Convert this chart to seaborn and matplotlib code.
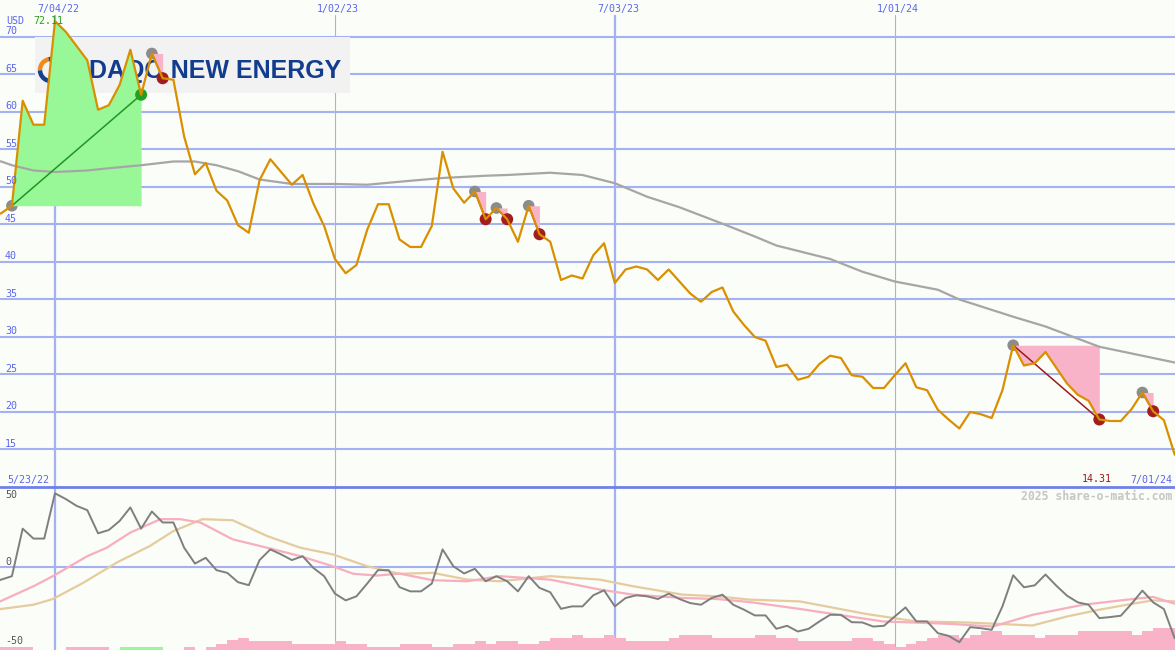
import numpy as np
import pandas as pd
import matplotlib
matplotlib.use("Agg")
import matplotlib.pyplot as plt
import matplotlib.patches as mpatches
from matplotlib.lines import Line2D
import seaborn as sns

# ---------------- data (weekly) ----------------
start_date = "2022-05-23"

price = [46.0, 46.5, 47.5, 61.5, 58.3, 58.3, 72.11, 70.7, 68.8, 66.9,
         60.3, 60.9, 63.6, 68.3, 62.3, 67.8, 64.5, 64.3, 56.7, 51.7,
         53.2, 49.5, 48.2, 44.9, 43.9, 50.9, 53.7, 52.0, 50.3, 51.6,
         47.8, 44.8, 40.4, 38.5, 39.6, 44.3, 47.7, 47.7, 43.0, 42.0,
         42.0, 44.8, 54.7, 49.8, 47.9, 49.4, 45.7, 47.2, 45.7, 42.7,
         47.5, 43.7, 42.7, 37.6, 38.2, 37.8, 40.9, 42.5, 37.2, 39.0,
         39.4, 39.0, 37.6, 39.0, 37.4, 35.8, 34.7, 36.0, 36.6, 33.4,
         31.6, 30.0, 29.5, 26.0, 26.3, 24.3, 24.7, 26.4, 27.5, 27.2,
         24.9, 24.7, 23.2, 23.2, 24.9, 26.5, 23.3, 22.9, 20.3, 19.0,
         17.8, 20.0, 19.7, 19.2, 22.9, 28.9, 26.2, 26.5, 28.0, 25.9,
         23.8, 22.3, 21.5, 19.0, 18.8, 18.8, 20.4, 22.6, 20.1, 18.9,
         14.31]

oscillator = [-11.0, -8.4, -6.1, 25.5, 18.9, 18.9, 49.0, 45.2, 40.7, 37.8,
              22.4, 24.6, 30.6, 39.6, 25.5, 36.9, 29.6, 29.6, 12.8, 2.3,
              6.1, -2.1, -3.9, -10.1, -12.1, 4.6, 11.7, 8.4, 4.6, 7.2,
              -0.6, -6.1, -17.7, -22.2, -19.5, -11.0, -2.1, -2.1, -13.4, -16.2,
              -16.2, -11.0, 11.7, 0.5, -4.3, -1.2, -9.5, -6.1, -9.5, -16.2,
              -6.1, -13.9, -16.8, -27.8, -26.2, -26.2, -18.8, -15.5, -26.2, -20.6,
              -18.8, -19.5, -21.3, -17.7, -21.3, -24.0, -25.1, -20.6, -18.4, -25.1,
              -28.4, -32.2, -32.2, -41.1, -39.1, -42.9, -41.1, -36.2, -31.8, -31.8,
              -36.7, -36.9, -39.6, -39.1, -32.9, -26.9, -36.2, -36.2, -44.0, -45.8,
              -50.0, -40.0, -40.7, -41.8, -26.2, -5.5, -13.5, -12.2, -5.0, -12.4,
              -19.1, -23.5, -25.1, -34.0, -33.3, -32.4, -24.4, -15.7, -23.5, -28.0,
              -47.4]

ma_weeks = [0, 1, 2, 4, 6, 9, 11, 14, 17, 19, 21, 23, 25, 28, 32, 35, 38, 42,
            46, 48, 52, 55, 58, 61, 64, 68, 71, 73, 78, 81, 84, 88, 90, 95, 98,
            103, 110]
ma_values = [53.6, 53.4, 52.9, 52.2, 52.0, 52.2, 52.5, 52.9, 53.4, 53.4, 52.9,
             52.1, 51.0, 50.4, 50.4, 50.3, 50.7, 51.2, 51.5, 51.6, 51.9, 51.6,
             50.5, 48.7, 47.3, 45.1, 43.4, 42.2, 40.4, 38.7, 37.4, 36.3, 35.0,
             32.7, 31.4, 28.7, 26.6]

pink_weeks = [0.9, 4.0, 5.8, 9.0, 10.8, 13.0, 15.8, 17.6, 19.5, 22.5, 25.7,
              28.8, 31.8, 33.7, 35.9, 38.0, 41.1, 44.3, 47.3, 52.0, 56.6, 59.7,
              64.3, 67.5, 70.5, 75.2, 79.8, 82.9, 89.1, 93.1, 96.8, 101.5,
              106.1, 108.0, 110.0]
pink_values = [-22.9, -12.8, -6.1, 7.2, 12.8, 22.9, 31.8, 31.8, 29.6, 18.4,
               12.8, 7.2, 0.5, -4.5, -5.7, -4.4, -8.8, -9.5, -6.1, -8.4, -15.0,
               -18.4, -20.6, -21.3, -23.3, -27.9, -32.9, -36.2, -37.8, -39.6,
               -31.8, -25.1, -21.3, -19.9, -24.4]

tan_weeks = [0.9, 4.0, 5.8, 8.6, 11.8, 14.8, 17.0, 19.7, 22.5, 25.7, 28.8,
             31.8, 35.0, 38.0, 41.1, 44.3, 47.3, 52.0, 56.6, 59.7, 64.3, 67.5,
             70.5, 75.2, 81.4, 86.0, 90.7, 96.8, 100.0, 103.0, 106.1, 108.0,
             110.0]
tan_values = [-28.0, -25.1, -21.3, -10.6, 3.2, 13.9, 23.9, 31.8, 31.1, 20.6,
              12.8, 8.4, 0.5, -4.5, -3.9, -8.4, -9.5, -6.1, -8.4, -12.8, -18.4,
              -19.5, -21.7, -22.9, -31.3, -36.2, -36.9, -38.9, -32.9, -28.4,
              -24.4, -22.2, -22.9]

# weekly bars at the foot of the lower panel (value units above the floor)
bar_heights = [2.2, 2.2, 2.2, 2.2, 0, 0, 0, 2.2, 2.2, 2.2,
               2.2, 0, 2.2, 2.2, 2.2, 2.2, 0, 0, 2.2, 0,
               2.2, 4.0, 6.7, 7.8, 6.0, 6.0, 6.0, 6.0, 4.0, 4.0,
               4.0, 4.0, 6.0, 4.0, 4.0, 2.2, 2.2, 2.2, 4.0, 4.0,
               4.0, 2.0, 2.0, 4.0, 4.0, 6.0, 4.0, 6.0, 6.0, 4.0,
               4.0, 6.0, 7.8, 7.8, 10.0, 7.8, 7.8, 10.0, 7.8, 6.0,
               6.0, 6.0, 6.0, 7.8, 10.0, 10.0, 10.0, 7.8, 7.8, 7.8,
               7.8, 10.0, 10.0, 7.8, 7.8, 6.0, 6.0, 6.0, 6.0, 6.0,
               8.2, 8.2, 6.0, 4.0, 2.2, 4.0, 6.0, 8.0, 10.0, 10.0,
               8.0, 10.0, 12.6, 12.6, 10.0, 10.0, 10.0, 8.0, 10.0, 10.0,
               10.0, 12.6, 12.6, 12.6, 12.6, 12.6, 10.0, 12.6, 14.8, 14.8]
bar_up_weeks = [12, 13, 14, 15]

gain_start, gain_end = 2, 14
peak_weeks = [15, 45, 47, 50, 95, 107]
trough_weeks = [16, 46, 48, 51, 103, 108]

grid_dates = ["2022-07-04", "2023-01-02", "2023-07-03", "2024-01-01"]
grid_labels = ["7/04/22", "1/02/23", "7/03/23", "1/01/24"]
price_ticks = [15, 20, 25, 30, 35, 40, 45, 50, 55, 60, 65, 70]
osc_ticks = [50, 0, -50]
company = "DAQO NEW ENERGY"
currency = "USD"
first_label, last_label = "5/23/22", "7/01/24"
high_label, last_price_label = "72.11", "14.31"
credit = "2025 share-o-matic.com"

# ---------------- style ----------------
sns.set_theme(style="white")
plt.rcParams["font.family"] = ["DejaVu Sans Mono", "DejaVu Sans"]

BG = "#fbfdf8"
GRID = "#a4b1f3"
SEP = "#6f80e8"
BLUE = "#5a66ee"
ORANGE = "#d99000"
PINK_FILL = "#f9b3c9"
GREEN_FILL = "#98f898"
DARKRED = "#a31d1d"

W, H = 1175, 650
TOP_PX, SEP_PX = 15, 487

t0 = pd.Timestamp(start_date)
dates = pd.Series(pd.date_range(start_date, periods=len(price), freq="7D"))
price_s = pd.Series(price)


def wk(w):
    return t0 + pd.Timedelta(days=7 * w)


fig = plt.figure(figsize=(W / 100, H / 100), dpi=100, facecolor=BG)
ax = fig.add_axes([0, (H - SEP_PX) / H, 1, (SEP_PX - TOP_PX) / H])
ax2 = fig.add_axes([0, 0, 1, (H - SEP_PX) / H])

ref = pd.Timestamp(grid_dates[0])
xl = (ref - pd.Timedelta(days=35.75), ref + pd.Timedelta(days=728.2))
for a in (ax, ax2):
    a.set_facecolor(BG)
    a.set_xlim(*xl)
    for s in a.spines.values():
        s.set_visible(False)
    a.set_xticks([])
    a.set_yticks([])
    a.grid(False)

ax.set_ylim(10.0, 72.93)
LOW = -55.2
ax2.set_ylim(LOW, 53.2)

# grid
for v in price_ticks:
    ax.axhline(v, color=GRID, lw=1.5, zorder=1)
ax2.axhline(0, color=GRID, lw=1.5, zorder=1)
for d in grid_dates:
    ts = pd.Timestamp(d)
    lw = 1.6 if ts.month == 7 else 0.8
    ax.axvline(ts, color=GRID, lw=lw, zorder=1)
    ax2.axvline(ts, color=GRID, lw=lw, zorder=1)

# separator
fig.add_artist(Line2D([0, 1], [(H - SEP_PX) / H] * 2, transform=fig.transFigure,
                      color=SEP, lw=2.0, zorder=10))

# tick labels
ytr = ax.get_yaxis_transform()
for v in price_ticks:
    ax.text(5 / W, v + 0.1, str(v), transform=ytr, ha="left", va="bottom",
            color=BLUE, fontsize=7.2, zorder=7)
ytr2 = ax2.get_yaxis_transform()
osc_pos = {50: (47.6, "center"), 0: (0.3, "bottom"), -50: (-51.5, "baseline")}
for v in osc_ticks:
    yy, va = osc_pos[v]
    ax2.text(5 / W, yy, str(v), transform=ytr2, ha="left", va=va,
             color="#555555", fontsize=7.2, zorder=7)

for d, lab in zip(grid_dates, grid_labels):
    ax.text(pd.Timestamp(d) + pd.Timedelta(days=2), 73.75, lab, ha="center",
            va="center", color=BLUE, fontsize=7.2, clip_on=False)


def ay(py):
    return (SEP_PX - py) / (SEP_PX - TOP_PX)


ax.text(6 / W, ay(21), currency, transform=ax.transAxes, ha="left", va="center",
        color=BLUE, fontsize=7.2, zorder=8)
ax.text(33 / W, ay(21), high_label, transform=ax.transAxes, ha="left", va="center",
        color="#2f9a1a", fontsize=7.2, zorder=8)
ax.text(7 / W, ay(479.5), first_label, transform=ax.transAxes, ha="left",
        va="center", color=BLUE, fontsize=7.2)
ax.text(1112 / W, ay(479.5), last_price_label, transform=ax.transAxes, ha="right",
        va="center", color="#a01414", fontsize=7.2)
ax.text(1172 / W, ay(479.5), last_label, transform=ax.transAxes, ha="right",
        va="center", color=BLUE, fontsize=7.2)
ax2.text(1172 / W, (H - 496) / (H - SEP_PX), credit, transform=ax2.transAxes,
         ha="right", va="center", color="#c6c6c6", fontsize=8.3, fontweight="bold")

# logo box
ax.add_patch(mpatches.Rectangle((35 / W, ay(93)), 315 / W, 56 / (SEP_PX - TOP_PX),
                                transform=ax.transAxes, facecolor="#f2f2f2",
                                edgecolor="none", zorder=2))
cx, cy = 51 / W, ay(70)
ew, eh = 22 / W, 22 / (SEP_PX - TOP_PX)
ax.add_patch(mpatches.Arc((cx, cy), ew, eh, theta1=95, theta2=185,
                          transform=ax.transAxes, color="#f08a1c", lw=3.2, zorder=2.1))
ax.add_patch(mpatches.Arc((cx, cy), ew, eh, theta1=185, theta2=455,
                          transform=ax.transAxes, color="#14408e", lw=3.2, zorder=2.1))
ax.text(89 / W, ay(71), company, transform=ax.transAxes, ha="left", va="center",
        fontsize=18, fontweight="bold", family="Liberation Sans",
        color="#123d8e", zorder=2.2)

# grey markers (below fills)
pk = [gain_start] + peak_weeks
sns.scatterplot(x=dates[pk].values, y=price_s[pk].values, ax=ax, color="#8c8c8c",
                s=70, edgecolor="none", zorder=2.5, legend=False)

# green gain region
gs = slice(gain_start, gain_end + 1)
ax.fill_between(dates[gs], price_s[gs], price[gain_start], color=GREEN_FILL,
                lw=0, zorder=3)
# pink loss regions
for p, t in zip(peak_weeks, trough_weeks):
    sl = slice(p, t + 1)
    ax.fill_between(dates[sl], price_s[sl], price[p], color=PINK_FILL, lw=0, zorder=3)

# long moving average
sns.lineplot(x=[wk(w) for w in ma_weeks], y=ma_values, ax=ax, color="#a6a6a6",
             lw=1.6, zorder=4, legend=False)

# connectors
sns.lineplot(x=[dates[gain_start], dates[gain_end]],
             y=[price[gain_start], price[gain_end]], ax=ax, color="#1f961f",
             lw=1.1, zorder=4.5, legend=False)
for p, t in zip(peak_weeks, trough_weeks):
    sns.lineplot(x=[dates[p], dates[t]], y=[price[p], price[t]], ax=ax,
                 color="#9b1b1b", lw=1.1, zorder=4.5, legend=False)

sns.scatterplot(x=dates[trough_weeks].values, y=price_s[trough_weeks].values, ax=ax,
                color=DARKRED, s=75, edgecolor="none", zorder=5, legend=False)
sns.scatterplot(x=[dates[gain_end]], y=[price[gain_end]], ax=ax, color="#22a022",
                s=75, edgecolor="none", zorder=5, legend=False)

# price
sns.lineplot(x=dates, y=price, ax=ax, color=ORANGE, lw=1.6, zorder=6, legend=False)

# ---------------- lower panel ----------------
bar_colors = [GREEN_FILL if k in bar_up_weeks else PINK_FILL
              for k in range(len(bar_heights))]
ax2.bar(dates[:len(bar_heights)], bar_heights, width=7, align="edge", bottom=LOW,
        color=bar_colors, lw=0, zorder=2)
sns.lineplot(x=[wk(w) for w in tan_weeks], y=tan_values, ax=ax2, color="#e5cb9e",
             lw=1.6, zorder=3, legend=False)
sns.lineplot(x=[wk(w) for w in pink_weeks], y=pink_values, ax=ax2, color="#f7aebf",
             lw=1.6, zorder=3.1, legend=False)
sns.lineplot(x=dates, y=oscillator, ax=ax2, color="#7f7f7f", lw=1.4, zorder=4,
             legend=False)

for a in (ax, ax2):
    a.set_xlabel("")
    a.set_ylabel("")
    a.set_xlim(*xl)

fig.savefig("out.png", dpi=100, facecolor=BG)
